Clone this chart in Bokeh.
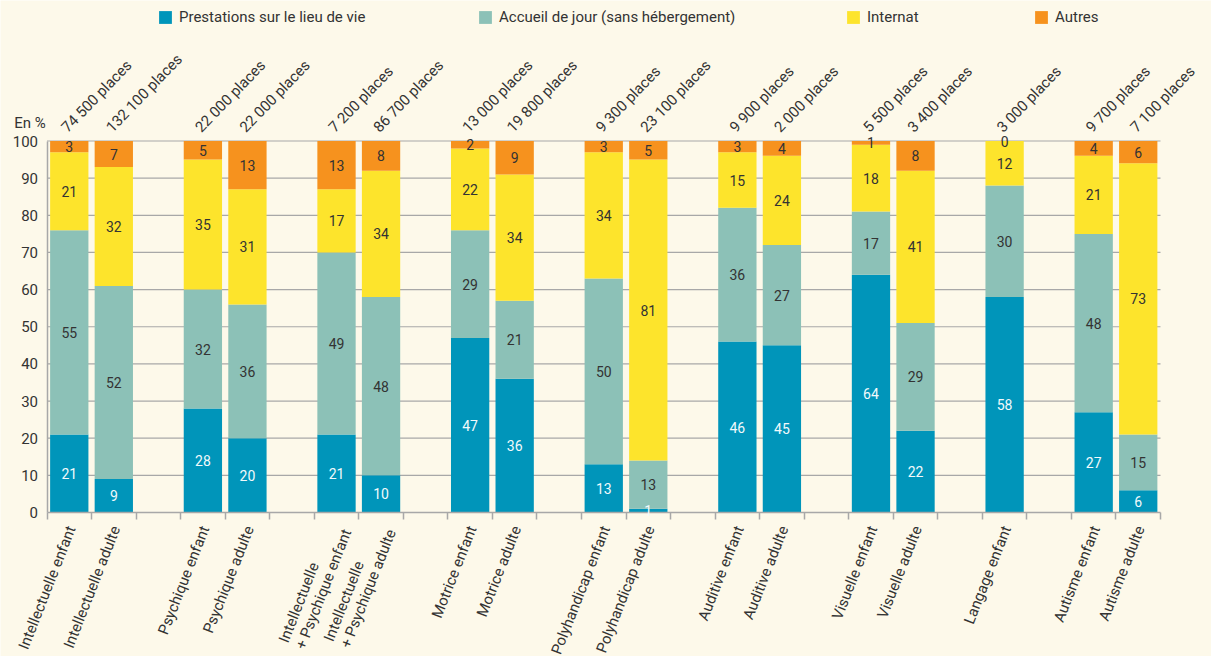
import math
from bokeh.plotting import figure
from bokeh.models import (ColumnDataSource, Range1d, FixedTicker, Legend, LegendItem,
                          Label, LabelSet, LinearAxis)
from bokeh.core.properties import value
from bokeh.embed import file_html
from bokeh.resources import INLINE

# ---------------- data ----------------
categories = [
    "Intellectuelle enfant", "Intellectuelle adulte",
    "Psychique enfant", "Psychique adulte",
    "Intellectuelle\n+ Psychique enfant", "Intellectuelle\n+ Psychique adulte",
    "Motrice enfant", "Motrice adulte",
    "Polyhandicap enfant", "Polyhandicap adulte",
    "Auditive enfant", "Auditive adulte",
    "Visuelle enfant", "Visuelle adulte",
    "Langage enfant",
    "Autisme enfant", "Autisme adulte",
]
group_sizes = [2, 2, 2, 2, 2, 2, 2, 1, 2]
places = [
    "74 500 places", "132 100 places", "22 000 places", "22 000 places",
    "7 200 places", "86 700 places", "13 000 places", "19 800 places",
    "9 300 places", "23 100 places", "9 900 places", "2 000 places",
    "5 500 places", "3 400 places", "3 000 places", "9 700 places", "7 100 places",
]
prestations = [21, 9, 28, 20, 21, 10, 47, 36, 13, 1, 46, 45, 64, 22, 58, 27, 6]
accueil = [55, 52, 32, 36, 49, 48, 29, 21, 50, 13, 36, 27, 17, 29, 30, 48, 15]
internat = [21, 32, 35, 31, 17, 34, 22, 34, 34, 81, 15, 24, 18, 41, 12, 21, 73]
autres = [3, 7, 5, 13, 13, 8, 2, 9, 3, 5, 3, 4, 1, 8, 0, 4, 6]
series_names = ["Prestations sur le lieu de vie", "Accueil de jour (sans hébergement)",
                "Internat", "Autres"]
y_ticks = [0, 10, 20, 30, 40, 50, 60, 70, 80, 90, 100]

# ---------------- style ----------------
FONT = "Roboto"
BG = "#FDF9EA"
COLORS = ["#0095BA", "#8CC1B7", "#FDE42C", "#F6921E"]
TEXT = "#333333"
LINE = "#A8A8A8"
W, H = 1211, 656
X0, X1 = 46.5, 1160.0     # pixel position of slot 0 and last slot edge
Y0, Y100 = 512.0, 140.5   # pixel position of 0 % and 100 %

# slot positions (bars of a group side by side, one empty slot between groups)
xs = []
slot = 0
for g in group_sizes:
    for _ in range(g):
        xs.append(slot + 0.5)
        slot += 1
    slot += 1
n_slots = slot - 1
boundaries = list(range(0, n_slots + 1))

kx = (X1 - X0) / n_slots
ky = (Y0 - Y100) / 100.0
x_range = Range1d(-X0 / kx, (W - X0) / kx)
y_range = Range1d(-(H - Y0) / ky, Y0 / ky)

keys = ["prestations", "accueil", "internat", "autres"]
series = [prestations, accueil, internat, autres]
data = dict(x=xs, cat=categories, places=places)
for k, s in zip(keys, series):
    data[k] = s
source = ColumnDataSource(data)

p = figure(width=W, height=H, x_range=x_range, y_range=y_range,
           output_backend="svg", toolbar_location=None,
           x_axis_location=None, y_axis_location=None,
           min_border_left=0, min_border_right=0, min_border_top=0, min_border_bottom=0)
p.background_fill_color = BG
p.border_fill_color = BG
p.outline_line_color = None
p.grid.visible = False

# horizontal grid lines over the bar area
grid_y = y_ticks[1:]
p.segment(x0=[0] * len(grid_y), x1=[n_slots] * len(grid_y), y0=grid_y, y1=grid_y,
          line_color=LINE, line_width=1.2)

# y axis at x = 0
yaxis = LinearAxis(fixed_location=0, bounds=(0, 100), ticker=FixedTicker(ticks=y_ticks))
yaxis.major_tick_line_color = None
yaxis.minor_tick_line_color = None
yaxis.axis_line_color = LINE
yaxis.axis_line_width = 1.5
yaxis.major_label_text_font = FONT
yaxis.major_label_text_font_size = "15px"
yaxis.major_label_text_color = TEXT
yaxis.major_label_standoff = 9
yaxis.major_tick_out = 0
yaxis.major_tick_in = 0
p.add_layout(yaxis, "left")

# x axis at y = 0, tick marks at slot boundaries
xaxis = LinearAxis(fixed_location=0, bounds=(0, n_slots),
                   ticker=FixedTicker(ticks=[], minor_ticks=boundaries))
xaxis.major_tick_line_color = None
xaxis.minor_tick_line_color = LINE
xaxis.minor_tick_line_width = 1.5
xaxis.minor_tick_in = 0
xaxis.minor_tick_out = 7
xaxis.axis_line_color = LINE
xaxis.axis_line_width = 1.5
p.add_layout(xaxis, "below")

# stacked bars
renderers = p.vbar_stack(keys, x="x", width=0.86, color=COLORS, line_color=None, source=source)

# segment labels
cum = [0] * len(xs)
for i, s in enumerate(series):
    mids = [c + v / 2 for c, v in zip(cum, s)]
    cum = [c + v for c, v in zip(cum, s)]
    src = ColumnDataSource(dict(x=xs, y=mids, t=[str(v) for v in s]))
    p.add_layout(LabelSet(x="x", y="y", text="t", source=src,
                          text_align="center", text_baseline="middle",
                          text_font=value(FONT), text_font_size=value("14px"),
                          text_color=value("#F2FAFC" if i == 0 else TEXT)))

# places labels above the bars
psrc = ColumnDataSource(dict(x=xs, y=[103.0] * len(xs), t=places))
p.add_layout(LabelSet(x="x", y="y", text="t", source=psrc, x_offset=-5,
                      angle=math.radians(46), text_align="left", text_baseline="middle",
                      text_font=value(FONT), text_font_size=value("15px"),
                      text_color=value(TEXT)))

# category labels below the bars
csrc = ColumnDataSource(dict(x=xs, y=[-3.8] * len(xs), t=categories))
p.add_layout(LabelSet(x="x", y="y", text="t", source=csrc, x_offset=2,
                      angle=math.radians(68.5), text_align="right", text_baseline="middle",
                      text_font=value(FONT), text_font_size=value("15px"),
                      text_color=value(TEXT), text_line_height=1.0))

# "En %"
p.add_layout(Label(x=-0.03, y=104.9, text="En %", text_align="right",
                   text_baseline="alphabetic", text_font=FONT, text_font_size="15px",
                   text_color=TEXT))

# legend (one per item, positioned like the reference)
leg_x = [157, 477, 845, 1033]
for r, name, lx in zip(renderers, series_names, leg_x):
    lg = Legend(items=[LegendItem(label=name, renderers=[r])], location=(lx, H - 26),
                orientation="horizontal", background_fill_alpha=0, border_line_color=None,
                glyph_width=16, glyph_height=16, label_height=16, padding=0, margin=0,
                label_standoff=6, label_text_font=FONT, label_text_font_size="15px",
                label_text_color=TEXT, label_text_baseline="middle")
    p.add_layout(lg, "center")

open("out.html", "w").write(file_html(p, INLINE))
